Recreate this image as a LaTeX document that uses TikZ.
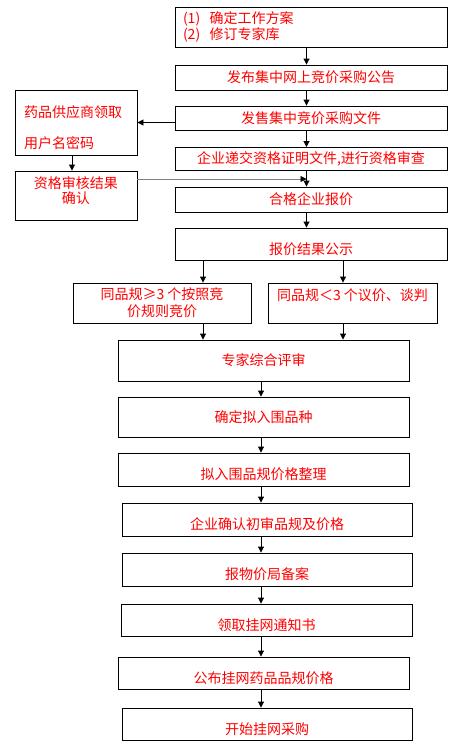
\documentclass[tikz,border=0pt]{standalone}
\usepackage{fontspec}
\newfontfamily\cjk{Noto Sans CJK SC}
\usepackage{tikz}
\usetikzlibrary{arrows.meta}

\begin{document}
\begin{tikzpicture}[x=1pt, y=-1pt,
  box/.style={rectangle, draw, line width=0.9pt, inner sep=0pt, text=red,
              font=\cjk\fontsize{14}{14}\selectfont},
  low/.style={text height=20pt, text depth=0pt},
  arrow/.style={-{Triangle[width=6pt,length=6pt]}, line width=0.9pt},
  feed/.style={-{Triangle[width=6pt,length=6pt,color=black]}, line width=0.9pt, gray}
]
\useasboundingbox (0,0) rectangle (462,747);

\coordinate (colM) at (306.5,0);
\coordinate (colB) at (261,0);
\coordinate (colS) at (72,0);
\coordinate (colL) at (203,0);
\coordinate (colR) at (343,0);
\coordinate (meet) at (306.5,179);

\node[box, minimum width=272pt, minimum height=40pt, text width=256pt, align=left] (plan) at (311,27) {(1)\ \ 确定工作方案\\(2)\ \ 修订专家库};
\node[box, minimum width=272pt, minimum height=25pt] (notice) at (311,77.5) {发布集中网上竞价采购公告};
\node[box, minimum width=272pt, minimum height=24pt] (sell)   at (311,118)  {发售集中竞价采购文件};
\node[box, minimum width=272pt, minimum height=23pt] (submit) at (311,159)  {企业递交资格证明文件,进行资格审查};
\node[box, minimum width=272pt, minimum height=25pt] (quote)  at (311,199.5) {合格企业报价};
\node[box, low, minimum width=272pt, minimum height=32pt] (publish) at (311,244) {报价结果公示};

\node[box, minimum width=122pt, minimum height=65pt, text width=104pt, align=left,
      text height=12pt, text depth=22.4pt] (account) at (76,122.5) {药品供应商领取\\[17pt]用户名密码};
\node[box, minimum width=122pt, minimum height=49pt, align=center,
      text height=16pt, text depth=0pt] (check) at (76,195.5) {资格审核结果\\[1pt]确认};

\node[box, minimum width=178pt, minimum height=40pt, align=center] (many) at (162,303) {同品规≥3 个按照竞\\[3pt]价规则竞价};
\node[box, minimum width=169pt, minimum height=40pt, text height=0pt, text depth=5.5pt] (few) at (352.5,303) {同品规＜3 个议价、谈判};

\node[box, minimum width=291pt, minimum height=41pt] (review) at (263.5,360.5) {专家综合评审};
\node[box, minimum width=291pt, minimum height=40pt] (select) at (263.5,417)   {确定拟入围品种};
\node[box, low, minimum width=291pt, minimum height=33pt] (sort)    at (263.5,469.5) {拟入围品规价格整理};
\node[box, low, minimum width=290pt, minimum height=33pt] (confirm) at (267,519.5)   {企业确认初审品规及价格};
\node[box, low, minimum width=290pt, minimum height=33pt] (record)  at (267,569.5)   {报物价局备案};
\node[box, low, minimum width=291pt, minimum height=32pt] (notify)  at (266.5,620)   {领取挂网通知书};
\node[box, low, minimum width=291pt, minimum height=32pt] (listing) at (263.5,673)   {公布挂网药品品规价格};
\node[box, low, minimum width=290pt, minimum height=32pt] (start)   at (267,724)     {开始挂网采购};

\draw[arrow] (plan.south -| colM)   -- (notice.north -| colM);
\draw[arrow] (notice.south -| colM) -- (sell.north -| colM);
\draw[arrow] (sell.south -| colM)   -- (submit.north -| colM);
\draw[arrow] (submit.south -| colM) -- (quote.north -| colM);
\draw[arrow] (quote.south -| colM)  -- (publish.north -| colM);

\draw[arrow] (sell.west |- account.east) -- (account.east);
\draw[arrow] (account.south -| colS) -- (check.north -| colS);
\draw[feed] (check.east |- meet) -- (meet);

\draw[arrow] (publish.south -| colL) -- (many.north -| colL);
\draw[arrow] (publish.south -| colR) -- (few.north -| colR);
\draw[arrow] (many.south -| colL) -- (review.north -| colL);
\draw[arrow] (few.south -| colR)  -- (review.north -| colR);

\draw[arrow] (review.south -| colB)  -- (select.north -| colB);
\draw[arrow] (select.south -| colB)  -- (sort.north -| colB);
\draw[arrow] (sort.south -| colB)    -- (confirm.north -| colB);
\draw[arrow] (confirm.south -| colB) -- (record.north -| colB);
\draw[arrow] (record.south -| colB)  -- (notify.north -| colB);
\draw[arrow] (notify.south -| colB)  -- (listing.north -| colB);
\draw[arrow] (listing.south -| colB) -- (start.north -| colB);
\end{tikzpicture}
\end{document}
